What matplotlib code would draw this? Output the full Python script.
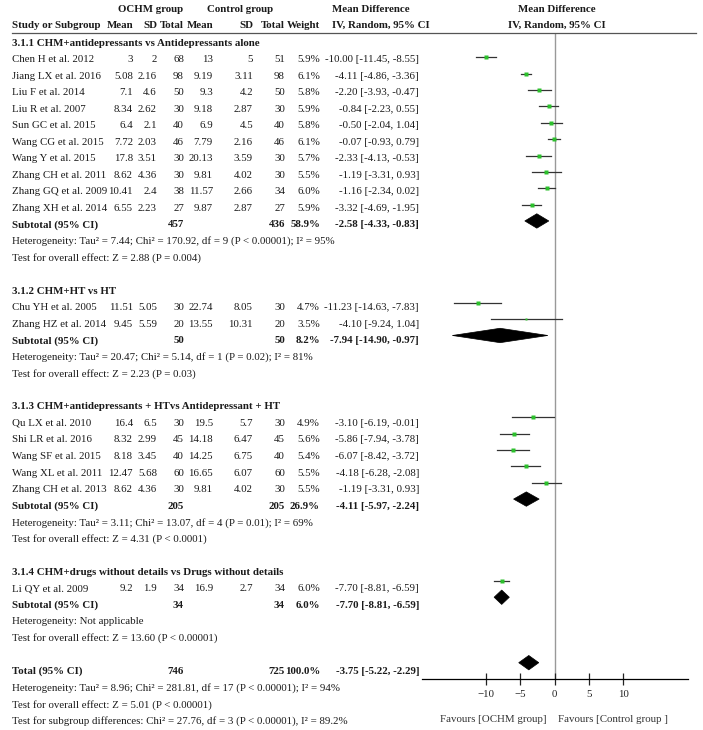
import matplotlib
matplotlib.use('Agg')
import matplotlib.pyplot as plt
from matplotlib.patches import Polygon

# ---------------- data ----------------
group_titles = [
    "3.1.1 CHM+antidepressants vs Antidepressants alone",
    "3.1.2 CHM+HT vs HT",
    "3.1.3 CHM+antidepressants + HTvs Antidepressant + HT",
    "3.1.4 CHM+drugs without details vs Drugs without details",
]
study_names = [
    "Chen H et al. 2012", "Jiang LX et al. 2016", "Liu F et al. 2014", "Liu R et al. 2007",
    "Sun GC et al. 2015", "Wang CG et al. 2015", "Wang Y et al. 2015", "Zhang CH et al. 2011",
    "Zhang GQ et al. 2009", "Zhang XH et al. 2014",
    "Chu YH et al. 2005", "Zhang HZ et al. 2014",
    "Qu LX et al. 2010", "Shi LR et al. 2016", "Wang SF et al. 2015", "Wang XL et al. 2011",
    "Zhang CH et al. 2013",
    "Li QY et al. 2009",
]
study_group = [0] * 10 + [1] * 2 + [2] * 5 + [3]
ochm_mean = [3, 5.08, 7.1, 8.34, 6.4, 7.72, 17.8, 8.62, 10.41, 6.55, 11.51, 9.45, 16.4, 8.32, 8.18, 12.47, 8.62, 9.2]
ochm_sd = [2, 2.16, 4.6, 2.62, 2.1, 2.03, 3.51, 4.36, 2.4, 2.23, 5.05, 5.59, 6.5, 2.99, 3.45, 5.68, 4.36, 1.9]
ochm_n = [68, 98, 50, 30, 40, 46, 30, 30, 38, 27, 30, 20, 30, 45, 40, 60, 30, 34]
ctrl_mean = [13, 9.19, 9.3, 9.18, 6.9, 7.79, 20.13, 9.81, 11.57, 9.87, 22.74, 13.55, 19.5, 14.18, 14.25, 16.65, 9.81, 16.9]
ctrl_sd = [5, 3.11, 4.2, 2.87, 4.5, 2.16, 3.59, 4.02, 2.66, 2.87, 8.05, 10.31, 5.7, 6.47, 6.75, 6.07, 4.02, 2.7]
ctrl_n = [51, 98, 50, 30, 40, 46, 30, 30, 34, 27, 30, 20, 30, 45, 40, 60, 30, 34]
weights = [5.9, 6.1, 5.8, 5.9, 5.8, 6.1, 5.7, 5.5, 6.0, 5.9, 4.7, 3.5, 4.9, 5.6, 5.4, 5.5, 5.5, 6.0]
md = [-10.00, -4.11, -2.20, -0.84, -0.50, -0.07, -2.33, -1.19, -1.16, -3.32, -11.23, -4.10, -3.10, -5.86, -6.07, -4.18, -1.19, -7.70]
md_lo = [-11.45, -4.86, -3.93, -2.23, -2.04, -0.93, -4.13, -3.31, -2.34, -4.69, -14.63, -9.24, -6.19, -7.94, -8.42, -6.28, -3.31, -8.81]
md_hi = [-8.55, -3.36, -0.47, 0.55, 1.04, 0.79, -0.53, 0.93, 0.02, -1.95, -7.83, 1.04, -0.01, -3.78, -3.72, -2.08, 0.93, -6.59]

sub_ochm_n = [457, 50, 205, 34]
sub_ctrl_n = [436, 50, 205, 34]
sub_weight = [58.9, 8.2, 26.9, 6.0]
sub_md = [-2.58, -7.94, -4.11, -7.70]
sub_lo = [-4.33, -14.90, -5.97, -8.81]
sub_hi = [-0.83, -0.97, -2.24, -6.59]
sub_het = [
    "Heterogeneity: Tau\u00b2 = 7.44; Chi\u00b2 = 170.92, df = 9 (P < 0.00001); I\u00b2 = 95%",
    "Heterogeneity: Tau\u00b2 = 20.47; Chi\u00b2 = 5.14, df = 1 (P = 0.02); I\u00b2 = 81%",
    "Heterogeneity: Tau\u00b2 = 3.11; Chi\u00b2 = 13.07, df = 4 (P = 0.01); I\u00b2 = 69%",
    "Heterogeneity: Not applicable",
]
sub_test = [
    "Test for overall effect: Z = 2.88 (P = 0.004)",
    "Test for overall effect: Z = 2.23 (P = 0.03)",
    "Test for overall effect: Z = 4.31 (P < 0.0001)",
    "Test for overall effect: Z = 13.60 (P < 0.00001)",
]
total_ochm_n = 746
total_ctrl_n = 725
total_weight = 100.0
total_md, total_lo, total_hi = -3.75, -5.22, -2.29
total_het = "Heterogeneity: Tau\u00b2 = 8.96; Chi\u00b2 = 281.81, df = 17 (P < 0.00001); I\u00b2 = 94%"
total_test = "Test for overall effect: Z = 5.01 (P < 0.00001)"
subgroup_test = "Test for subgroup differences: Chi\u00b2 = 27.76, df = 3 (P < 0.00001), I\u00b2 = 89.2%"
x_ticks = [-10, -5, 0, 5, 10]
favours_left = "Favours [OCHM group]"
favours_right = "Favours [Control group ]"

# ---------------- layout ----------------
W, H = 703, 730
FONT = ['Liberation Serif', 'DejaVu Serif']
FS = 7.8
TXT = '#1a1a1a'
plt.rcParams['font.family'] = FONT

TROW0, TDY = 43.0, 16.54     # text rows (pixels from top)
MROW0, MDY = 41.0, 16.36     # plot rows (pixels from top)
X_NAME = 12
X_OM, X_OSD, X_ON = 133, 157, 184
X_CM, X_CSD, X_CN = 213, 253, 285
X_W, X_CI = 320, 419

fig = plt.figure(figsize=(W / 100, H / 100), dpi=100)


def fx(x):
    return x / W


def fy(y):
    return 1 - y / H


def txt(x, y, s, ha='left', bold=False, color=TXT):
    fig.text(fx(x), fy(y), s, ha=ha, va='center', fontsize=FS,
             fontweight='bold' if bold else 'normal', color=color)


def rowy(i):
    return TROW0 + i * TDY


def fmt(v):
    return f"{v:g}"


def ci_str(m, lo, hi):
    return f"{m:.2f} [{lo:.2f}, {hi:.2f}]"


# header
txt(151, 10, "OCHM group", ha='center', bold=True)
txt(240, 10, "Control group", ha='center', bold=True)
txt(332, 10, "Mean Difference", bold=True)
txt(557, 10, "Mean Difference", ha='center', bold=True)
txt(X_NAME, 25, "Study or Subgroup", bold=True)
for x, s in [(X_OM, "Mean"), (X_OSD, "SD"), (X_ON, "Total"), (X_CM, "Mean"),
             (X_CSD, "SD"), (X_CN, "Total"), (X_W, "Weight")]:
    txt(x, 25, s, ha='right', bold=True)
txt(332, 25, "IV, Random, 95% CI", bold=True)
txt(557, 25, "IV, Random, 95% CI", ha='center', bold=True)
fig.add_artist(plt.Line2D([fx(12), fx(696)], [fy(33), fy(33)], color='#555555', lw=0.9))

# forest axes
AX_L, AX_R, AX_T, AX_B = 421.5, 687.5, 33, 679
ax = fig.add_axes([fx(AX_L), fy(AX_B), (AX_R - AX_L) / W, (AX_B - AX_T) / H])
ax.set_xlim(-19.4, 19.4)
ax.set_ylim((AX_B - MROW0) / MDY, (AX_T - MROW0) / MDY)
ax.patch.set_alpha(0)
for sp in ['left', 'right', 'top']:
    ax.spines[sp].set_visible(False)
ax.spines['bottom'].set_linewidth(0.9)
ax.set_yticks([])
ax.set_xticks(x_ticks)
ax.tick_params(axis='x', direction='inout', length=8, width=0.9, labelsize=FS,
               pad=4, colors='#222222')
ax.axvline(0, color='#999999', lw=1.0, zorder=1)

DIAM_H = 0.44


def diamond(row, m, lo, hi):
    ax.add_patch(Polygon([(lo, row), (m, row - DIAM_H), (hi, row), (m, row + DIAM_H)],
                         closed=True, facecolor='black', edgecolor='black', lw=0.5, zorder=3))


row = 0
for g, title in enumerate(group_titles):
    txt(X_NAME, rowy(row), title, bold=True)
    row += 1
    for k in range(len(study_names)):
        if study_group[k] != g:
            continue
        y = rowy(row)
        txt(X_NAME, y, study_names[k])
        txt(X_OM, y, fmt(ochm_mean[k]), ha='right')
        txt(X_OSD, y, fmt(ochm_sd[k]), ha='right')
        txt(X_ON, y, fmt(ochm_n[k]), ha='right')
        txt(X_CM, y, fmt(ctrl_mean[k]), ha='right')
        txt(X_CSD, y, fmt(ctrl_sd[k]), ha='right')
        txt(X_CN, y, fmt(ctrl_n[k]), ha='right')
        txt(X_W, y, f"{weights[k]:.1f}%", ha='right')
        txt(X_CI, y, ci_str(md[k], md_lo[k], md_hi[k]), ha='right')
        ax.plot([md_lo[k], md_hi[k]], [row, row], color='#333333', lw=0.9, zorder=2)
        ax.plot([md[k]], [row], marker='s', ms=1.5 + weights[k] / 6.0, color='#2cc02c',
                mec='none', zorder=4)
        row += 1
    y = rowy(row)
    txt(X_NAME, y, "Subtotal (95% CI)", bold=True)
    txt(X_ON, y, str(sub_ochm_n[g]), ha='right', bold=True)
    txt(X_CN, y, str(sub_ctrl_n[g]), ha='right', bold=True)
    txt(X_W, y, f"{sub_weight[g]:.1f}%", ha='right', bold=True)
    txt(X_CI, y, ci_str(sub_md[g], sub_lo[g], sub_hi[g]), ha='right', bold=True)
    diamond(row, sub_md[g], sub_lo[g], sub_hi[g])
    row += 1
    txt(X_NAME, rowy(row), sub_het[g])
    row += 1
    txt(X_NAME, rowy(row), sub_test[g])
    row += 2

y = rowy(row)
txt(X_NAME, y, "Total (95% CI)", bold=True)
txt(X_ON, y, str(total_ochm_n), ha='right', bold=True)
txt(X_CN, y, str(total_ctrl_n), ha='right', bold=True)
txt(X_W, y, f"{total_weight:.1f}%", ha='right', bold=True)
txt(X_CI, y, ci_str(total_md, total_lo, total_hi), ha='right', bold=True)
diamond(row, total_md, total_lo, total_hi)
row += 1
txt(X_NAME, rowy(row), total_het)
row += 1
txt(X_NAME, rowy(row), total_test)
row += 1
txt(X_NAME, rowy(row), subgroup_test)

txt(547, 719, favours_left, ha='right', color='#333333')
txt(558, 719, favours_right, color='#333333')

fig.savefig('out.png', dpi=100)
